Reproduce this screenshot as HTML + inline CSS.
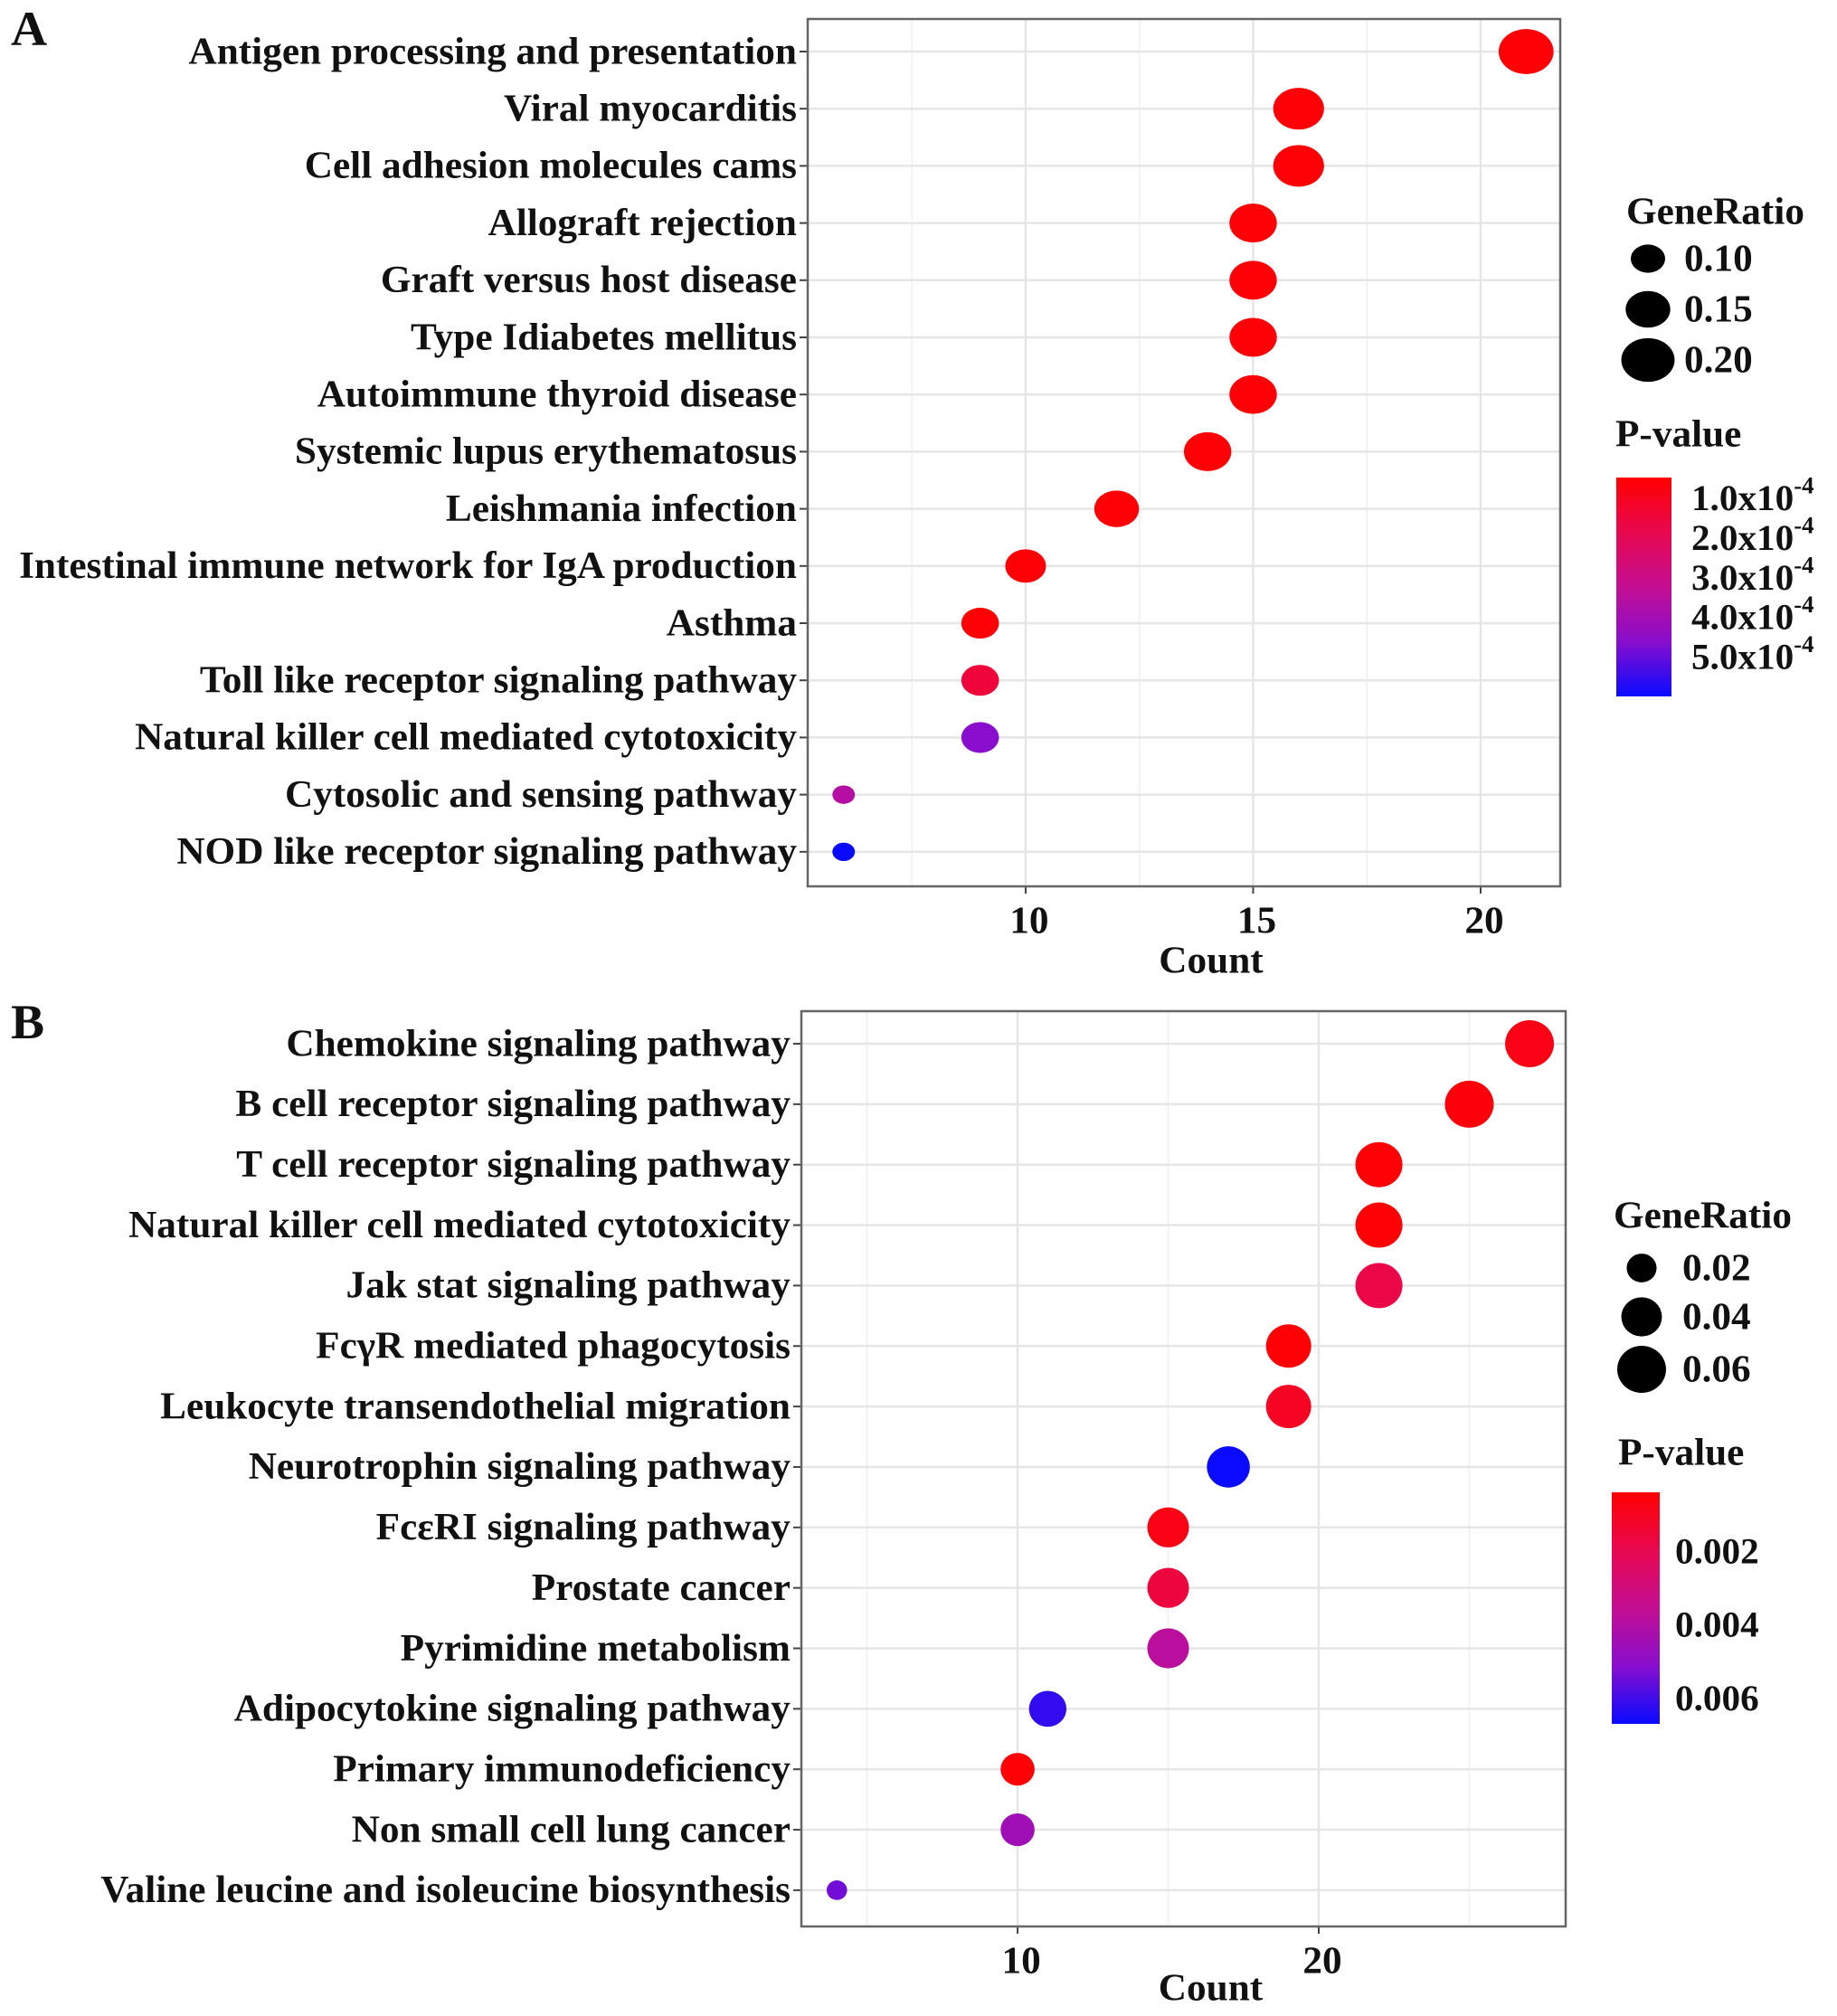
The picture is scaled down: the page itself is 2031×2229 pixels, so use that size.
<!DOCTYPE html>
<html><head><meta charset="utf-8"><style>
html,body{margin:0;padding:0;background:#fff;}
svg{display:block;font-family:"Liberation Serif",serif;font-weight:bold;}
</style></head><body>
<svg id="fig" width="2031" height="2229" viewBox="0 0 2031 2229" xmlns="http://www.w3.org/2000/svg"></svg>
<script>
// ---- Panel A data ----
const catsA = ["Antigen processing and presentation","Viral myocarditis","Cell adhesion molecules cams","Allograft rejection","Graft versus host disease","Type Idiabetes mellitus","Autoimmune thyroid disease","Systemic lupus erythematosus","Leishmania infection","Intestinal immune network for IgA production","Asthma","Toll like receptor signaling pathway","Natural killer cell mediated cytotoxicity","Cytosolic and sensing pathway","NOD like receptor signaling pathway"];
const countA = [21,16,16,15,15,15,15,14,12,10,9,9,9,6,6];
const ratioA = [0.21,0.185,0.185,0.165,0.165,0.165,0.165,0.165,0.15,0.13,0.115,0.115,0.115,0.055,0.055];
const pvalA = [0.00006,0.00006,0.00006,0.00006,0.00006,0.00006,0.00006,0.00006,0.00006,0.00006,0.00006,0.00015,0.00046,0.00036,0.0006];
const xTicksA = [10,15,20];
const xMinorA = [7.5,12.5,17.5];
const sizeBreaksA = [0.10,0.15,0.20];
const sizeLabelsA = ["0.10","0.15","0.20"];
const colorBreaksA = [0.0001,0.0002,0.0003,0.0004,0.0005];
const colorLabelsA = ["1.0x10","2.0x10","3.0x10","4.0x10","5.0x10"];
// ---- Panel B data ----
const catsB = ["Chemokine signaling pathway","B cell receptor signaling pathway","T cell receptor signaling pathway","Natural killer cell mediated cytotoxicity","Jak stat signaling pathway","Fc\u03b3R mediated phagocytosis","Leukocyte transendothelial migration","Neurotrophin signaling pathway","Fc\u03b5RI signaling pathway","Prostate cancer","Pyrimidine metabolism","Adipocytokine signaling pathway","Primary immunodeficiency","Non small cell lung cancer","Valine leucine and isoleucine biosynthesis"];
const countB = [27,25,22,22,22,19,19,17,15,15,15,11,10,10,4];
const ratioB = [0.06,0.06,0.0553,0.0553,0.0553,0.0506,0.0506,0.0453,0.0422,0.0422,0.0422,0.0334,0.0268,0.0268,0.008];
const pvalB = [0.0008,0.0006,0.0005,0.0005,0.0018,0.0005,0.0011,0.0067,0.0008,0.0016,0.0038,0.0062,0.0005,0.0045,0.0054];
const xTicksB = [10,20];
const xMinorB = [5,15,25];
const sizeBreaksB = [0.02,0.04,0.06];
const sizeLabelsB = ["0.02","0.04","0.06"];
const colorBreaksB = [0.002,0.004,0.006];
const colorLabelsB = ["0.002","0.004","0.006"];

const NS = "http://www.w3.org/2000/svg";
const svg = document.getElementById('fig');
const SX = 1.03;
function mk(tag, attrs, parent){
  const e = document.createElementNS(NS, tag);
  for (const k in attrs) e.setAttribute(k, attrs[k]);
  (parent||svg).appendChild(e);
  return e;
}
const textLayer = mk('g', {transform:'scale('+SX+',1)'});


function txt(x, y, s, anchor, size, name){
  const t = mk('text', {x:(x/SX).toFixed(1), y:y, 'text-anchor':anchor, 'font-size':size, 'dominant-baseline':'central', fill:'#111'}, textLayer);
  t.textContent = s;
  
  
  return t;
}
const stops = [[0,[255,0,0]],[0.25,[232,8,80]],[0.5,[196,14,146]],[0.75,[136,14,206]],[1,[10,10,255]]];
function colorAt(t){
  t = Math.max(0, Math.min(1, t));
  for (let i=1;i<stops.length;i++){
    if (t <= stops[i][0]){
      const a=stops[i-1], b=stops[i], f=(t-a[0])/(b[0]-a[0]);
      const c=a[1].map((v,j)=>Math.round(v+(b[1][j]-v)*f));
      return 'rgb('+c.join(',')+')';
    }
  }
  return 'rgb(10,10,255)';
}

function panel(cfg){
  const P = cfg;
  const xs = c => P.x0 + (c - P.dMin)/(P.dMax - P.dMin)*(P.x1 - P.x0);
  const ys = i => P.rowY0 + i*P.rowStep;
  const cs = p => colorAt((p - P.pMin)/(P.pMax - P.pMin));
  const ws = r => P.wk*Math.sqrt(r) + P.wc;
  const g = mk('g', {});
  
  
  mk('rect', {x:P.x0, y:P.y0, width:P.x1-P.x0, height:P.y1-P.y0, fill:'#fff'}, g);
  P.minor.forEach(v=>{
    const l = mk('line', {x1:xs(v), x2:xs(v), y1:P.y0, y2:P.y1, stroke:'#f0f0f0', 'stroke-width':1.5}, g);
    
    
  });
  P.ticks.forEach(v=>{
    const l = mk('line', {x1:xs(v), x2:xs(v), y1:P.y0, y2:P.y1, stroke:'#e6e6e6', 'stroke-width':2.5}, g);
    
    
    const tk = mk('line', {x1:xs(v), x2:xs(v), y1:P.y1, y2:P.y1+8, stroke:'#444', 'stroke-width':2}, g);
    
    
    txt(xs(v)+4, P.y1+38, String(v), 'middle', 42, P.id + '-x-tick-label');
  });
  P.cats.forEach((c,i)=>{
    const l = mk('line', {x1:P.x0, x2:P.x1, y1:ys(i), y2:ys(i), stroke:'#e6e6e6', 'stroke-width':2.5}, g);
    
    
    const tk = mk('line', {x1:P.x0-9, x2:P.x0, y1:ys(i), y2:ys(i), stroke:'#444', 'stroke-width':2}, g);
    
    
    txt(P.x0-12, ys(i), c, 'end', 42, P.id + '-category-label');
  });
  const border = mk('rect', {x:P.x0, y:P.y0, width:P.x1-P.x0, height:P.y1-P.y0, fill:'none', stroke:'#666', 'stroke-width':2.5}, g);
  
  
  P.counts.forEach((c,i)=>{
    const w = ws(P.ratios[i]);
    const e = mk('ellipse', {cx:xs(c), cy:ys(i), rx:w/2, ry:w/2/P.aspect, fill:cs(P.pvals[i])}, g);
    
    
  });
  txt((P.x0+P.x1)/2+30, P.countY, 'Count', 'middle', 42, P.id + '-x-axis-title');
  txt(P.letterX, P.letterY, P.letter, 'start', 54, P.id + '-panel-letter');
  // size legend
  txt(P.lgX, P.lgTitleY, 'GeneRatio', 'start', 42, P.id + '-size-legend-title');
  P.sizeBreaks.forEach((r,i)=>{
    const w = ws(r);
    const e = mk('ellipse', {cx:P.lgDotX, cy:P.lgDotY[i], rx:w/2, ry:w/2/P.aspect, fill:'#000'});
    
    
    txt(P.lgLabX, P.lgDotY[i], P.sizeLabels[i], 'start', 42, P.id + '-size-legend-label');
  });
  // color legend
  txt(P.cbTitleX, P.cbTitleY, 'P-value', 'start', 42, P.id + '-color-legend-title');
  const gid = P.id + 'grad';
  const defs = mk('defs', {});
  const lg = mk('linearGradient', {id:gid, x1:0, y1:0, x2:0, y2:1}, defs);
  stops.forEach(s=>mk('stop', {offset:s[0], 'stop-color':colorAt(s[0])}, lg));
  const bar = mk('rect', {x:P.cbX, y:P.cbY0, width:P.cbW, height:P.cbY1-P.cbY0, fill:'url(#'+gid+')'});
  
  
  const cy = p => P.cbY0 + (p - P.pMin)/(P.pMax - P.pMin)*(P.cbY1 - P.cbY0);
  P.colorBreaks.forEach((p,i)=>{
    const t = txt(P.cbLabX, cy(p), P.colorLabels[i], 'start', 40, P.id + '-color-legend-label');
    if (P.sup){
      const s = mk('tspan', {'font-size':26, dy:-14}, t);
      s.textContent = '-4';
    }
  });
}

panel({id:'panel-a', letter:'A', letterX:12, letterY:32, cats:catsA, counts:countA, ratios:ratioA, pvals:pvalA,
  ticks:xTicksA, minor:xMinorA, x0:893, x1:1725, y0:21, y1:980, dMin:5.21, dMax:21.75, rowY0:57, rowStep:63.2,
  pMin:0.000048, pMax:0.0006, wk:160, wc:-12.6, aspect:1.22, countY:1062,
  lgX:1798, lgTitleY:234, lgDotX:1822, lgDotY:[286,342,398], lgLabX:1862, sizeBreaks:sizeBreaksA, sizeLabels:sizeLabelsA,
  cbTitleX:1786, cbTitleY:480, cbX:1787, cbW:61, cbY0:528, cbY1:770, cbLabX:1870, colorBreaks:colorBreaksA, colorLabels:colorLabelsA, sup:true});

panel({id:'panel-b', letter:'B', letterX:12, letterY:1130, cats:catsB, counts:countB, ratios:ratioB, pvals:pvalB,
  ticks:xTicksB, minor:xMinorB, x0:886, x1:1731, y0:1118, y1:2130, dMin:2.82, dMax:28.2, rowY0:1154, rowStep:66.85,
  pMin:0.0004, pMax:0.0067, wk:202, wc:4.5, aspect:1.04, countY:2198,
  lgX:1784, lgTitleY:1344, lgDotX:1815, lgDotY:[1402,1456,1514], lgLabX:1860, sizeBreaks:sizeBreaksB, sizeLabels:sizeLabelsB,
  cbTitleX:1789, cbTitleY:1606, cbX:1782, cbW:53, cbY0:1650, cbY1:1906, cbLabX:1852, colorBreaks:colorBreaksB, colorLabels:colorLabelsB, sup:false});
</script>
</body></html>
